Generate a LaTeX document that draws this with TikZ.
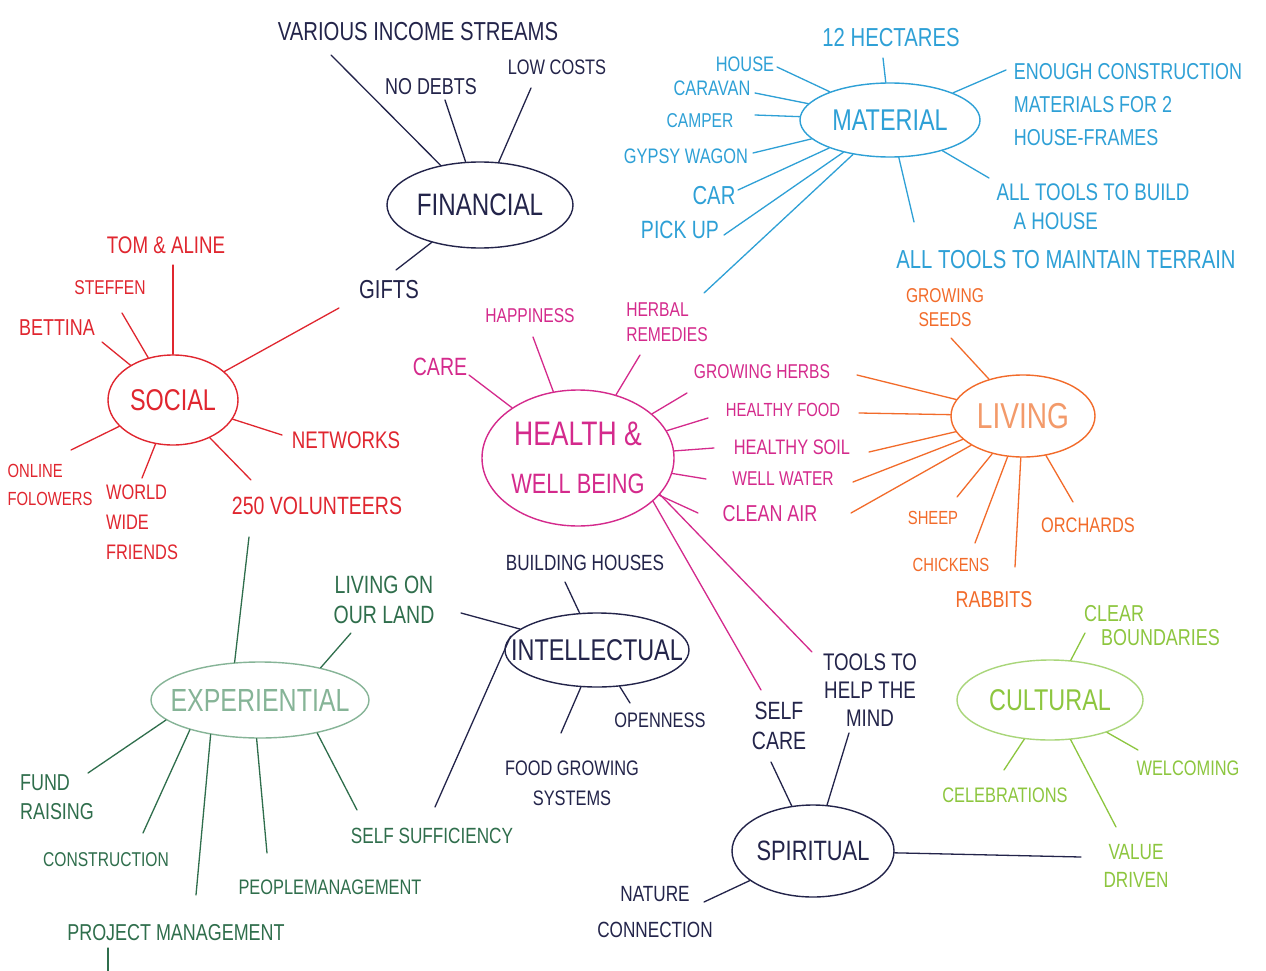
\documentclass[tikz,border=0pt]{standalone}
\usepackage{fontspec}
\setmainfont{Liberation Sans}[FakeStretch=0.78]
\usetikzlibrary{shapes.geometric,calc}
\definecolor{navy}{HTML}{23244A}
\definecolor{mblue}{HTML}{2EA0D6}
\definecolor{mred}{HTML}{E0262F}
\definecolor{mmag}{HTML}{D42A8C}
\definecolor{morange}{HTML}{F26B2A}
\definecolor{lorange}{HTML}{F39A6A}
\definecolor{dgreen}{HTML}{2F6E4C}
\definecolor{fgreen}{HTML}{86B497}
\definecolor{lgreen}{HTML}{8DC63F}
\definecolor{pgreen}{HTML}{A9D67A}
\begin{document}
\begin{tikzpicture}[x=1pt,y=-1pt,
  hub/.style={ellipse, draw, line width=1.4pt, inner sep=0pt, align=center},
  lab/.style={inner sep=1pt, align=center},
  f/.style 2 args={font=\fontsize{#1}{#2}\selectfont},
  c/.style={draw, line width=1.3pt, line cap=round}]
\useasboundingbox[fill=white] (0,0) rectangle (1266,971);

% ---------------- hubs
\node[hub, navy, f={31}{36}, minimum width=186pt, minimum height=86pt] (F) at (480,205) {FINANCIAL};
\node[hub, mblue, f={30}{36}, minimum width=180pt, minimum height=74pt] (M) at (890,120) {MATERIAL};
\node[hub, mred, f={30}{36}, minimum width=130pt, minimum height=90pt] (S) at (173,400) {SOCIAL};
\node[hub, mmag, f={28}{34}, inner xsep=-7pt, minimum width=192pt, minimum height=136pt] (H) at (578,458)
  {{\fontsize{34}{40}\selectfont HEALTH \&}\\[14pt]WELL BEING};
\node[hub, draw=morange, text=lorange, f={36}{40}, minimum width=144pt, minimum height=82pt] (L) at (1023,416) {LIVING};
\node[hub, draw=fgreen, text=fgreen, f={32}{36}, inner xsep=-14pt, minimum width=218pt, minimum height=76pt] (E) at (260,700) {EXPERIENTIAL};
\node[hub, navy, f={30}{36}, inner xsep=-22pt, minimum width=184pt, minimum height=74pt] (I) at (597,650) {INTELLECTUAL};
\node[hub, navy, f={28}{32}, minimum width=162pt, minimum height=92pt] (P) at (813,851) {SPIRITUAL};
\node[hub, draw=pgreen, text=lgreen, f={30}{36}, minimum width=186pt, minimum height=80pt] (C) at (1050,700) {CULTURAL};

% ---------------- labels: financial / intellectual / spiritual (navy)
\node[lab, navy, f={26}{30}] (various) at (418,32) {VARIOUS INCOME STREAMS};
\node[lab, navy, f={23}{28}] (nodebts) at (431,87) {NO DEBTS};
\node[lab, navy, f={21}{26}] (lowcosts) at (557,67) {LOW COSTS};
\node[lab, navy, f={26}{30}] (gifts) at (389,290) {GIFTS};
\node[lab, navy, f={22}{26}] (building) at (585,563) {BUILDING HOUSES};
\node[lab, navy, f={21}{30}] (food) at (572,783) {FOOD GROWING\\SYSTEMS};
\node[lab, navy, f={21}{26}] (openness) at (660,720) {OPENNESS};
\node[lab, navy, f={25}{30}] (selfcare) at (779,726) {SELF\\CARE};
\node[lab, navy, f={24}{28}] (tools) at (870,690) {TOOLS TO\\HELP THE\\MIND};
\node[lab, navy, f={22}{36}] (nature) at (655,912) {NATURE\\CONNECTION};

% ---------------- social (red)
\node[lab, mred, f={24}{28}] (tomaline) at (166,245) {TOM \& ALINE};
\node[lab, mred, f={20}{24}] (steffen) at (110,288) {STEFFEN};
\node[lab, mred, f={23}{26}] (bettina) at (57,328) {BETTINA};
\node[lab, mred, f={19}{28}, align=left] (online) at (50,485) {ONLINE\\FOLOWERS};
\node[lab, mred, f={21}{30}, align=left] (world) at (142,522) {WORLD\\WIDE\\FRIENDS};
\node[lab, mred, f={24}{28}] (networks) at (346,440) {NETWORKS};
\node[lab, mred, f={25}{28}] (volunteers) at (317,506) {250 VOLUNTEERS};

% ---------------- experiential (green)
\node[lab, dgreen, f={25}{30}] (livingland) at (384,600) {LIVING ON\\OUR LAND};
\node[lab, dgreen, f={23}{29}, align=left] (fundraising) at (57,797) {FUND\\RAISING};
\node[lab, dgreen, f={20}{24}] (construction) at (106,860) {CONSTRUCTION};
\node[lab, dgreen, f={23}{26}] (project) at (176,933) {PROJECT MANAGEMENT};
\node[lab, dgreen, f={21}{24}] (people) at (330,887) {PEOPLEMANAGEMENT};
\node[lab, dgreen, f={22}{26}] (selfsuff) at (432,836) {SELF SUFFICIENCY};
\coordinate (pend) at (108,975);

% ---------------- health (magenta)
\node[lab, mmag, f={25}{28}] (care) at (440,367) {CARE};
\node[lab, mmag, f={20}{24}] (happiness) at (530,316) {HAPPINESS};
\node[lab, mmag, f={20}{25}, align=left] (herbal) at (667,322) {HERBAL\\REMEDIES};
\node[lab, mmag, f={20}{24}] (gherbs) at (762,372) {GROWING HERBS};
\node[lab, mmag, f={19}{24}] (hfood) at (783,410) {HEALTHY FOOD};
\node[lab, mmag, f={21}{24}] (hsoil) at (792,447) {HEALTHY SOIL};
\node[lab, mmag, f={20}{24}] (wwater) at (783,479) {WELL WATER};
\node[lab, mmag, f={23}{26}] (cleanair) at (770,514) {CLEAN AIR};

% ---------------- living (orange)
\node[lab, morange, f={20}{24}] (seeds) at (945,308) {GROWING\\SEEDS};
\node[lab, morange, f={19}{24}] (sheep) at (933,518) {SHEEP};
\node[lab, morange, f={19}{24}] (chickens) at (951,565) {CHICKENS};
\node[lab, morange, f={23}{26}] (rabbits) at (994,600) {RABBITS};
\node[lab, morange, f={21}{24}] (orchards) at (1088,525) {ORCHARDS};

% ---------------- material (blue)
\node[lab, mblue, f={26}{30}] (hectares) at (891,38) {12 HECTARES};
\node[lab, mblue, f={21}{24}] (house) at (745,64) {HOUSE};
\node[lab, mblue, f={21}{24}] (caravan) at (712,88) {CARAVAN};
\node[lab, mblue, f={20}{24}] (camper) at (700,121) {CAMPER};
\node[lab, mblue, f={21}{24}] (gypsy) at (686,156) {GYPSY WAGON};
\node[lab, mblue, f={26}{28}] (car) at (714,196) {CAR};
\node[lab, mblue, f={25}{28}] (pickup) at (680,230) {PICK UP};
\node[lab, mblue, f={23}{33}, align=left] (enough) at (1128,105) {ENOUGH CONSTRUCTION\\MATERIALS FOR 2\\HOUSE-FRAMES};
\node[lab, mblue, f={24}{29}, align=left] (build) at (1093,207) {ALL TOOLS TO BUILD\\\hspace*{17pt}A HOUSE};
\node[lab, mblue, f={26}{30}] (terrain) at (1066,260) {ALL TOOLS TO MAINTAIN TERRAIN};

% ---------------- cultural (light green)
\node[lab, lgreen, f={23}{24}, align=left] (boundaries) at (1152,626) {CLEAR\\\hspace*{17pt}BOUNDARIES};
\node[lab, lgreen, f={21}{24}] (welcoming) at (1188,768) {WELCOMING};
\node[lab, lgreen, f={21}{24}] (celebrations) at (1005,795) {CELEBRATIONS};
\node[lab, lgreen, f={22}{28}] (value) at (1136,866) {VALUE\\DRIVEN};

% ================= connectors
% financial
\draw[c, navy] ($(various)+(-87,23)$) -- (F);
\draw[c, navy] ($(nodebts)+(14,13)$) -- (F);
\draw[c, navy] ($(lowcosts)+(-26,21)$) -- (F);
\draw[c, navy] ($(gifts)+(7,-20)$) -- (F);
% social
\draw[c, mred] ($(tomaline)+(7,20)$) -- (S);
\draw[c, mred] ($(steffen)+(12,25)$) -- (S);
\draw[c, mred] ($(bettina)+(45,14)$) -- (S);
\draw[c, mred] ($(gifts)+(-50,18)$) -- (S);
\draw[c, mred] ($(online)+(21,-35)$) -- (S);
\draw[c, mred] ($(world)+(0,-44)$) -- (S);
\draw[c, mred] ($(networks)+(-64,-5)$) -- (S);
\draw[c, mred] ($(volunteers)+(-66,-26)$) -- (S);
% experiential
\draw[c, dgreen] ($(volunteers)+(-68,31)$) -- (E.124);
\draw[c, dgreen] ($(livingland)+(-33,33)$) -- (E.28);
\draw[c, dgreen] ($(fundraising)+(31,-24)$) -- (E.192);
\draw[c, dgreen] ($(construction)+(37,-27)$) -- (E.203);
\draw[c, dgreen] ($(project)+(20,-38)$) -- (E.215);
\draw[c, dgreen] ($(project)+(-68,15)$) -- (pend);
\draw[c, dgreen] ($(people)+(-63,-34)$) -- (E.265);
\draw[c, dgreen] ($(selfsuff)+(-75,-26)$) -- (E.-30);
% intellectual
\draw[c, navy] ($(livingland)+(77,13)$) -- (I);
\draw[c, navy] ($(selfsuff)+(3,-29)$) -- (I.171);
\draw[c, navy] ($(building)+(-20,19)$) -- (I);
\draw[c, navy] ($(food)+(-11,-50)$) -- (I);
\draw[c, navy] ($(openness)+(-30,-17)$) -- (I);
% health
\draw[c, mmag] ($(care)+(29,8)$) -- (H);
\draw[c, mmag] ($(happiness)+(3,21)$) -- (H);
\draw[c, mmag] ($(herbal)+(-27,33)$) -- (H);
\draw[c, mmag] ($(gherbs)+(-75,21)$) -- (H);
\draw[c, mmag] ($(hfood)+(-75,8)$) -- (H);
\draw[c, mmag] ($(hsoil)+(-78,1)$) -- (H);
\draw[c, mmag] ($(wwater)+(-77,0)$) -- (H);
\draw[c, mmag] ($(cleanair)+(-72,-1)$) -- (H);
\draw[c, mmag] ($(selfcare)+(-18,-36)$) -- (H.-30);
\draw[c, mmag] ($(tools)+(-58,-38)$) -- (H.-24);
% living
\draw[c, morange] ($(seeds)+(6,30)$) -- (L);
\draw[c, morange] ($(gherbs)+(95,3)$) -- (L);
\draw[c, morange] ($(hfood)+(76,3)$) -- (L);
\draw[c, morange] ($(hsoil)+(77,5)$) -- (L);
\draw[c, morange] ($(wwater)+(70,3)$) -- (L);
\draw[c, morange] ($(cleanair)+(81,-1)$) -- (L);
\draw[c, morange] ($(sheep)+(24,-21)$) -- (L);
\draw[c, morange] ($(chickens)+(24,-22)$) -- (L);
\draw[c, morange] ($(rabbits)+(21,-33)$) -- (L);
\draw[c, morange] ($(orchards)+(-15,-23)$) -- (L);
% material
\draw[c, mblue] ($(hectares)+(-8,20)$) -- (M);
\draw[c, mblue] ($(house)+(32,3)$) -- (M);
\draw[c, mblue] ($(caravan)+(43,5)$) -- (M);
\draw[c, mblue] ($(camper)+(55,-6)$) -- (M);
\draw[c, mblue] ($(gypsy)+(67,-3)$) -- (M);
\draw[c, mblue] ($(car)+(24,-6)$) -- (M);
\draw[c, mblue] ($(pickup)+(44,5)$) -- (M);
\draw[c, mblue] ($(herbal)+(37,-29)$) -- (M);
\draw[c, mblue] ($(enough)+(-122,-35)$) -- (M);
\draw[c, mblue] ($(build)+(-104,-29)$) -- (M);
\draw[c, mblue] ($(terrain)+(-152,-38)$) -- (M);
% spiritual
\draw[c, navy] ($(selfcare)+(-8,36)$) -- (P);
\draw[c, navy] ($(tools)+(-21,43)$) -- (P);
\draw[c, navy] ($(nature)+(49,-10)$) -- (P);
\draw[c, navy] ($(value)+(-55,-9)$) -- (P);
% cultural
\draw[c, lgreen] ($(boundaries)+(-67,7)$) -- (C);
\draw[c, lgreen] ($(welcoming)+(-50,-18)$) -- (C);
\draw[c, lgreen] ($(celebrations)+(-1,-25)$) -- (C);
\draw[c, lgreen] ($(value)+(-20,-39)$) -- (C);
\end{tikzpicture}
\end{document}
